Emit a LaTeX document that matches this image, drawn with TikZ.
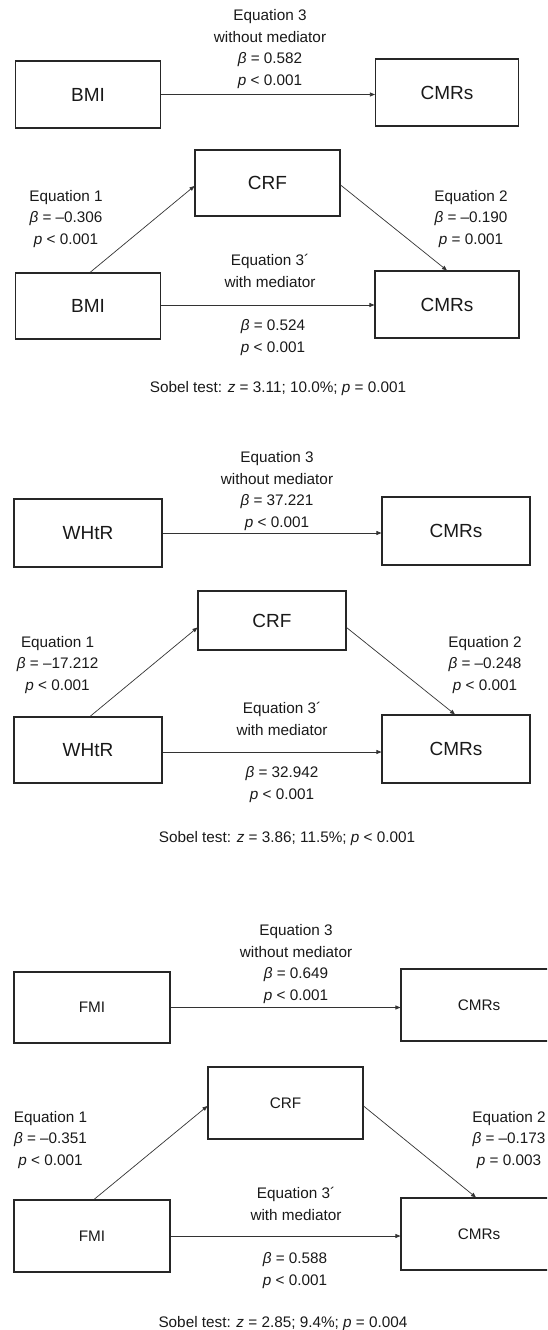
\documentclass[tikz,border=0pt]{standalone}
\usepackage{fontspec}
\setmainfont{Liberation Sans}
\usetikzlibrary{arrows.meta,calc}
\begin{document}
\begin{tikzpicture}[x=1pt,y=-1pt,
  box/.style={draw=black!85, line width=1.1pt, inner sep=0pt, font=\fontsize{19}{22}\selectfont, text=black!90},
  sbox/.style={box, font=\fontsize{15.3}{18}\selectfont},
  lab/.style={align=center, inner sep=0pt, font=\fontsize{15.3}{21.5}\selectfont, text=black!90, anchor=base},
  arr/.style={draw=black!80, line width=0.7pt, -{Triangle[length=5pt,width=4pt]}}]
\useasboundingbox (0,0) rectangle (547,1330);
\clip (0,0) rectangle (547,1330);

% ---------------- Panel 1 (BMI) ----------------
\node[box, minimum width=145pt, minimum height=67pt] (b1) at (88,94.5) {BMI};
\node[box, minimum width=143pt, minimum height=67pt] (c1) at (447,92.5) {CMRs};
\draw[arr] (b1.east) -- (b1.east -| c1.west);
\node[lab] (l1) at (270,85) {Equation 3\\without mediator\\\textit{β} = 0.582\\\textit{p} < 0.001};

\node[box, minimum width=145pt, minimum height=66pt] (r1) at (267.5,183) {CRF};
\node[box, minimum width=145pt, minimum height=66pt] (b2) at (88,306) {BMI};
\node[box, minimum width=144pt, minimum height=67pt] (c2) at (447,304.5) {CMRs};
\coordinate (a1) at ($(b2.east)+(0,-1)$);
\draw[arr] ($(b2.north)+(2,0)$) -- ($(r1.west)+(0,3)$);
\draw[arr] ($(r1.east)+(0,2)$) -- (c2.north);
\draw[arr] (a1) -- (a1 -| c2.west);
\node[lab] (l2) at (66,244) {Equation 1\\\textit{β} = –0.306\\\textit{p} < 0.001};
\node[lab] (l3) at (471,244) {Equation 2\\\textit{β} = –0.190\\\textit{p} = 0.001};
\node[lab] (l4) at (270,287) {Equation 3´\\with mediator};
\node[lab] (l5) at (273,352) {\textit{β} = 0.524\\\textit{p} < 0.001};
\node[lab] (l6) at (278,392) {Sobel test: \textit{z} = 3.11; 10.0\%; \textit{p} = 0.001};

% ---------------- Panel 2 (WHtR) ----------------
\node[box, minimum width=148pt, minimum height=68pt] (w1) at (88,533) {WHtR};
\node[box, minimum width=148pt, minimum height=68pt] (c3) at (456,531) {CMRs};
\draw[arr] (w1.east) -- (w1.east -| c3.west);
\node[lab] (m1) at (277,527) {Equation 3\\without mediator\\\textit{β} = 37.221\\\textit{p} < 0.001};

\node[box, minimum width=148pt, minimum height=59pt] (r2) at (272,620.5) {CRF};
\node[box, minimum width=148pt, minimum height=66pt] (w2) at (88,750) {WHtR};
\node[box, minimum width=148pt, minimum height=68pt] (c4) at (456,749) {CMRs};
\coordinate (a2) at ($(w2.east)+(0,2)$);
\draw[arr] ($(w2.north)+(2,0)$) -- ($(r2.west)+(0,7)$);
\draw[arr] ($(r2.east)+(0,7)$) -- ($(c4.north)+(-1,0)$);
\draw[arr] (a2) -- (a2 -| c4.west);
\node[lab] (m2) at (57.6,690) {Equation 1\\\textit{β} = –17.212\\\textit{p} < 0.001};
\node[lab] (m3) at (485,690) {Equation 2\\\textit{β} = –0.248\\\textit{p} < 0.001};
\node[lab] (m4) at (282,735) {Equation 3´\\with mediator};
\node[lab] (m5) at (282,799) {\textit{β} = 32.942\\\textit{p} < 0.001};
\node[lab] (m6) at (287,842) {Sobel test: \textit{z} = 3.86; 11.5\%; \textit{p} < 0.001};

% ---------------- Panel 3 (FMI) ----------------
\node[sbox, minimum width=156pt, minimum height=71pt] (f1) at (92,1007.5) {FMI};
\node[sbox, minimum width=156pt, minimum height=72pt] (c5) at (479,1005) {CMRs};
\draw[arr] (f1.east) -- (f1.east -| c5.west);
\node[lab] (n1) at (296,1000) {Equation 3\\without mediator\\\textit{β} = 0.649\\\textit{p} < 0.001};

\node[sbox, minimum width=155pt, minimum height=72pt] (r3) at (285.5,1103) {CRF};
\node[sbox, minimum width=156pt, minimum height=72pt] (f2) at (92,1236) {FMI};
\node[sbox, minimum width=156pt, minimum height=72pt] (c6) at (479,1234) {CMRs};
\draw[arr] ($(f2.north)+(2,0)$) -- ($(r3.west)+(0,3)$);
\draw[arr] ($(r3.east)+(0,3)$) -- ($(c6.north)+(-3,0)$);
\draw[arr] (f2.east) -- (f2.east -| c6.west);
\node[lab] (n2) at (50.5,1165) {Equation 1\\\textit{β} = –0.351\\\textit{p} < 0.001};
\node[lab] (n3) at (509,1165) {Equation 2\\\textit{β} = –0.173\\\textit{p} = 0.003};
\node[lab] (n4) at (296,1220) {Equation 3´\\with mediator};
\node[lab] (n5) at (295,1285) {\textit{β} = 0.588\\\textit{p} < 0.001};
\node[lab] (n6) at (283,1327) {Sobel test: \textit{z} = 2.85; 9.4\%; \textit{p} = 0.004};
\end{tikzpicture}
\end{document}
